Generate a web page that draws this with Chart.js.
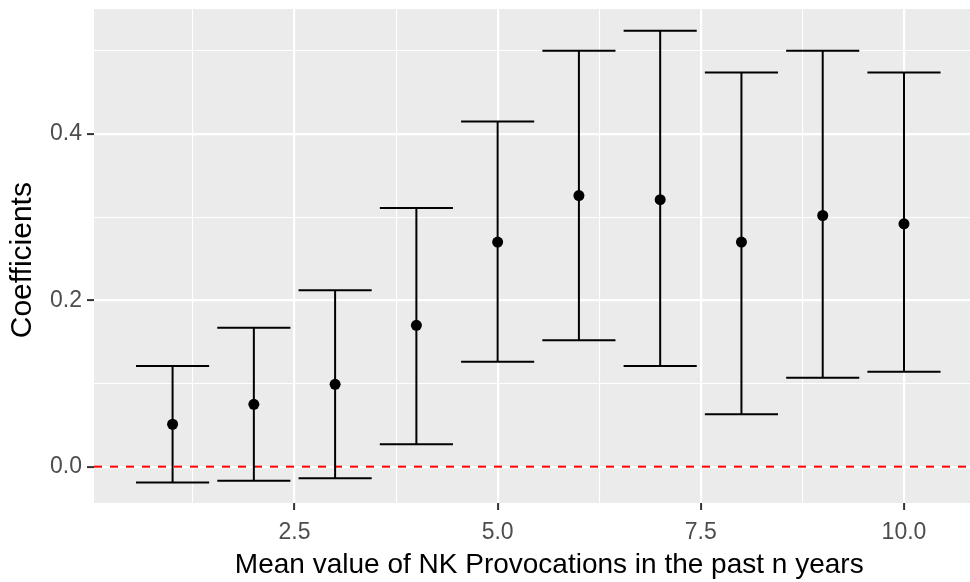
<!DOCTYPE html>
<html>
<head>
<meta charset="utf-8">
<script src="https://cdn.jsdelivr.net/npm/chart.js@4/dist/chart.umd.min.js"></script>
<style>
  html, body { margin: 0; padding: 0; background: #ffffff; overflow: hidden; }
  #wrap { width: 970px; height: 582px; overflow: hidden; position: relative; }
  canvas { display: block; }
</style>
</head>
<body>
<div id="wrap"><canvas id="chart" width="1010" height="582"></canvas></div>
<script>
// Window length n (years) and the estimated coefficient with its confidence bounds
const nYears   = [1, 2, 3, 4, 5, 6, 7, 8, 9, 10];
const estimate = [0.051, 0.075, 0.099, 0.170, 0.270, 0.326, 0.321, 0.270, 0.302, 0.292];
const ciLower  = [-0.019, -0.017, -0.014, 0.027, 0.126, 0.152, 0.121, 0.063, 0.107, 0.114];
const ciUpper  = [0.121, 0.167, 0.212, 0.311, 0.415, 0.500, 0.524, 0.474, 0.500, 0.474];

// Axis breaks
const yMajorTicks = [0, 0.2, 0.4];
const yMinorTicks = [0.1, 0.3, 0.5];
const xMajorTicks = [2.5, 5, 7.5, 10];
const xMinorTicks = [1.25, 3.75, 6.25, 8.75];
const referenceLevel = 0;

const CAP_HALF = 0.45;   // half width of the error-bar caps, in x units
const FONT = "'Liberation Sans', Arial, sans-serif";

const isIn = (arr, v) => arr.some(t => Math.abs(t - v) < 1e-9);

const panelBackground = {
  id: 'panelBackground',
  beforeDraw(chart) {
    const { ctx, chartArea: a } = chart;
    ctx.save();
    ctx.fillStyle = '#EBEBEB';
    ctx.fillRect(a.left, a.top, a.right - a.left, a.bottom - a.top);
    ctx.restore();
  }
};

const errorBars = {
  id: 'errorBars',
  beforeDatasetsDraw(chart) {
    const { ctx, chartArea: a, scales: { x, y } } = chart;
    ctx.save();
    ctx.beginPath();
    ctx.rect(a.left, a.top, a.right - a.left, a.bottom - a.top);
    ctx.clip();

    // dashed reference line at zero
    const yRef = y.getPixelForValue(referenceLevel);
    ctx.strokeStyle = '#FF0000';
    ctx.lineWidth = 2;
    ctx.setLineDash([8, 8]);
    ctx.beginPath();
    ctx.moveTo(a.left, yRef);
    ctx.lineTo(a.right, yRef);
    ctx.stroke();
    ctx.setLineDash([]);

    // vertical ranges with caps
    ctx.strokeStyle = '#000000';
    ctx.lineWidth = 2;
    nYears.forEach((n, i) => {
      const xc = x.getPixelForValue(n);
      const xl = x.getPixelForValue(n - CAP_HALF);
      const xr = x.getPixelForValue(n + CAP_HALF);
      const yl = y.getPixelForValue(ciLower[i]);
      const yu = y.getPixelForValue(ciUpper[i]);
      ctx.beginPath();
      ctx.moveTo(xc, yl); ctx.lineTo(xc, yu);
      ctx.moveTo(xl, yu); ctx.lineTo(xr, yu);
      ctx.moveTo(xl, yl); ctx.lineTo(xr, yl);
      ctx.stroke();
    });
    ctx.restore();
  }
};

new Chart(document.getElementById('chart'), {
  type: 'scatter',
  data: {
    datasets: [{
      data: nYears.map((n, i) => ({ x: n, y: estimate[i] })),
      pointRadius: 5.5,
      pointHoverRadius: 5.5,
      pointBackgroundColor: '#000000',
      pointBorderWidth: 0
    }]
  },
  options: {
    responsive: false,
    animation: false,
    devicePixelRatio: 1,
    layout: { padding: { top: 9, left: 0, right: 0, bottom: 0 } },
    plugins: { legend: { display: false }, tooltip: { enabled: false } },
    scales: {
      x: {
        type: 'linear',
        min: 0.033,
        max: 11.237,
        afterBuildTicks(scale) {
          scale.ticks = [...xMinorTicks, ...xMajorTicks].sort((a, b) => a - b).map(v => ({ value: v }));
        },
        afterFit(scale) {
          scale.height = 79;
          scale.paddingLeft = 0;
          scale.paddingRight = 0;
        },
        ticks: {
          autoSkip: false,
          maxRotation: 0,
          padding: 9,
          color: '#4D4D4D',
          font: { family: FONT, size: 23 },
          callback: v => isIn(xMajorTicks, v) ? v.toFixed(1) : ''
        },
        grid: {
          color: '#FFFFFF',
          lineWidth: ctx => isIn(xMajorTicks, ctx.tick.value) ? 2.2 : 1.1,
          tickColor: ctx => isIn(xMajorTicks, ctx.tick.value) ? '#333333' : 'rgba(0,0,0,0)',
          tickLength: 7,
          tickWidth: 2
        },
        border: { display: false },
        title: {
          display: true,
          text: 'Mean value of NK Provocations in the past n years',
          color: '#000000',
          font: { family: FONT, size: 28 },
          padding: { top: 0, bottom: 0 }
        }
      },
      y: {
        type: 'linear',
        min: -0.0437,
        max: 0.5503,
        afterBuildTicks(scale) {
          scale.ticks = [...yMajorTicks, ...yMinorTicks].sort((a, b) => a - b).map(v => ({ value: v }));
        },
        afterFit(scale) {
          scale.width = 94;
          scale.paddingTop = 0;
          scale.paddingBottom = 0;
        },
        ticks: {
          autoSkip: false,
          padding: 5,
          color: '#4D4D4D',
          font: { family: FONT, size: 23 },
          callback: v => isIn(yMajorTicks, v) ? v.toFixed(1) : ''
        },
        grid: {
          color: '#FFFFFF',
          lineWidth: ctx => isIn(yMajorTicks, ctx.tick.value) ? 2.2 : 1.1,
          tickColor: ctx => isIn(yMajorTicks, ctx.tick.value) ? '#333333' : 'rgba(0,0,0,0)',
          tickLength: 7,
          tickWidth: 2
        },
        border: { display: false },
        title: {
          display: true,
          text: 'Coefficients ',
          color: '#000000',
          font: { family: FONT, size: 30 },
          padding: { top: 5, bottom: 0 }
        }
      }
    }
  },
  plugins: [panelBackground, errorBars]
});
</script>
</body>
</html>
